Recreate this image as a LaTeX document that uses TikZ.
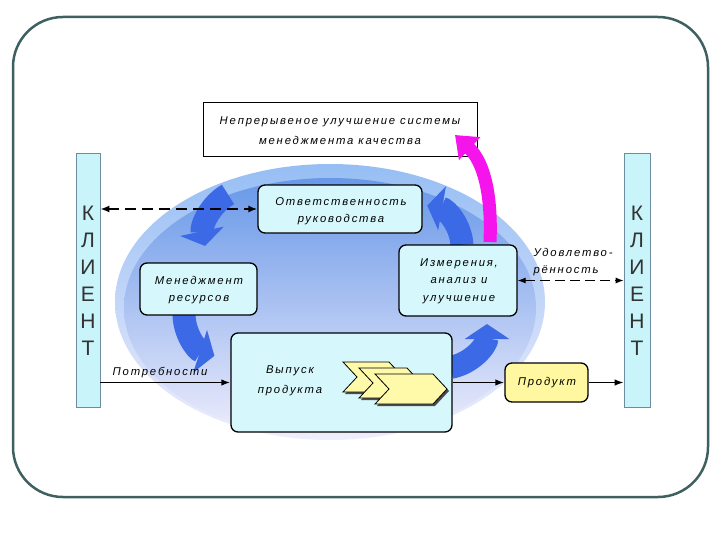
\documentclass[tikz,border=0pt]{standalone}
\usepackage{fontspec}
\setmainfont{Liberation Sans}
\newfontfamily\lab[LetterSpace=16]{Liberation Sans}
\newfontfamily\cli{Liberation Sans}
\usetikzlibrary{arrows.meta}
\definecolor{framec}{RGB}{62,96,96}
\definecolor{boxfill}{RGB}{214,248,252}
\definecolor{barfill}{RGB}{200,244,250}
\definecolor{barline}{RGB}{110,140,160}
\definecolor{prodfill}{RGB}{255,248,160}
\definecolor{chevfill}{RGB}{255,250,170}
\definecolor{arcblue}{RGB}{60,105,230}
\definecolor{mag}{RGB}{245,20,235}
\definecolor{elltop}{RGB}{104,152,232}
\definecolor{ellmid}{RGB}{122,170,238}
\definecolor{ellbot}{RGB}{240,238,252}
\definecolor{rimtop}{RGB}{150,190,244}
\begin{document}
\begin{tikzpicture}[x=1pt,y=-1pt,
  box/.style={draw=black, line width=1.3pt, rounded corners=7pt, fill=boxfill, inner sep=0pt},
  txt/.style={font=\lab\itshape\fontsize{11.3}{17.5}\selectfont, align=center, text=black},
  bluearr/.style={draw=arcblue, line width=23pt, -{Triangle[length=15pt,width=44pt]}},
  bar/.style={draw=barline, line width=0.6pt, fill=barfill, inner sep=0pt},
  clitxt/.style={font=\cli\fontsize{21}{27}\selectfont, align=center, text=black!80},
  conn/.style={line width=1.7pt, -{Latex[length=9pt,width=6.5pt]}},
  chev/.style={draw=black, line width=0.8pt, fill=chevfill},
  chevsh/.style={fill=black!70}
]
\useasboundingbox (0,0) rectangle (720,540);
% outer frame
\draw[line width=2.5pt, draw=framec, rounded corners=50pt] (13,17) rectangle (708,497);
% ellipse background
\shade[top color=rimtop, bottom color=ellbot] (330,302) ellipse [x radius=215, y radius=138];
\shade[top color=elltop, middle color=ellmid, bottom color=ellbot] (330,308) ellipse [x radius=206, y radius=130];
% blue cycle arrows
\draw[bluearr] (252,236) ++(240:48) arc[start angle=240, end angle=168, radius=48];
\draw[bluearr] (228,314) ++(180:44) arc[start angle=180, end angle=108, radius=44];
\draw[bluearr] (443,324) ++(80:44) arc[start angle=80, end angle=0, radius=44];
\draw[bluearr] (420,247) ++(-3:42) arc[start angle=-3, end angle=-80, radius=42];
% client bars
\node[bar, minimum width=24pt, minimum height=254pt] (lbar) at (88,280) {};
\node[bar, minimum width=26pt, minimum height=254pt] (rbar) at (637,280) {};
\node[clitxt] (lcli) at (88,281) {К\\Л\\И\\Е\\Н\\Т};
\node[clitxt] (rcli) at (637,281) {К\\Л\\И\\Е\\Н\\Т};
% top box
\node[draw=black, line width=1pt, fill=white, minimum width=274pt, minimum height=54pt, inner sep=0pt] (top) at (340,130) {};
\node[txt, font=\lab\itshape\fontsize{11.3}{20}\selectfont] (toptxt) at (340,131) {Непрерывеное улучшение системы\\менеджмента качества};
% boxes
\node[box, minimum width=164pt, minimum height=48pt] (resp) at (340,209) {};
\node[txt] (resptxt) at (341,211) {Ответственность\\руководства};
\node[box, minimum width=117pt, minimum height=52pt] (res) at (198.5,289) {};
\node[txt] (restxt) at (199,290) {Менеджмент\\ресурсов};
\node[box, minimum width=118pt, minimum height=71pt] (meas) at (458,280.5) {};
\node[txt] (meastxt) at (459,281) {Измерения,\\анализ и\\улучшение};
\node[box, minimum width=221pt, minimum height=99pt] (prod) at (341.5,382.5) {};
\node[txt, font=\lab\itshape\fontsize{11.3}{20}\selectfont] (prodtxt) at (290,381) {Выпуск\\продукта};
\node[box, fill=prodfill, minimum width=83pt, minimum height=39pt] (product) at (546.5,382.5) {};
\node[txt] (producttxt) at (547,383) {Продукт};
% chevrons
\foreach \x/\y/\w in {343/362/60, 359/368/62, 375/374/72}{
  \fill[chevsh] (\x+2,\y+2) -- ++(\w-14,0) -- ++(14,15) -- ++(-14,15) -- ++(-\w+14,0) -- ++(14,-15) -- cycle;
  \filldraw[chev] (\x,\y) -- ++(\w-14,0) -- ++(14,15) -- ++(-14,15) -- ++(-\w+14,0) -- ++(14,-15) -- cycle;
}
% magenta arrow
\draw[draw=mag, line width=13pt, -{Triangle[length=20pt,width=30pt]}] (490,242) .. controls (492,195) and (484,162) .. (455,135);
% connectors
\draw[line width=2pt, dash pattern=on 11pt off 6pt, {Latex[length=9pt,width=7pt]}-{Latex[length=9pt,width=7pt]}] (lbar.east |- resp.west) -- (resp.west);
\draw[line width=1.1pt, dash pattern=on 10pt off 5pt, {Latex[length=8pt,width=6pt]}-{Latex[length=8pt,width=6pt]}] (meas.east) -- (meas.east -| rbar.west);
\draw[conn] (lbar.east |- prod.west) -- (prod.west);
\draw[conn] (prod.east) -- (product.west);
\draw[conn] (product.east) -- (product.east -| rbar.west);
% labels
\node[txt] (need) at (160,373) {Потребности};
\node[txt, align=left, anchor=west] (sat) at (530,262) {Удовлетво-\\рённость};
\end{tikzpicture}
\end{document}
